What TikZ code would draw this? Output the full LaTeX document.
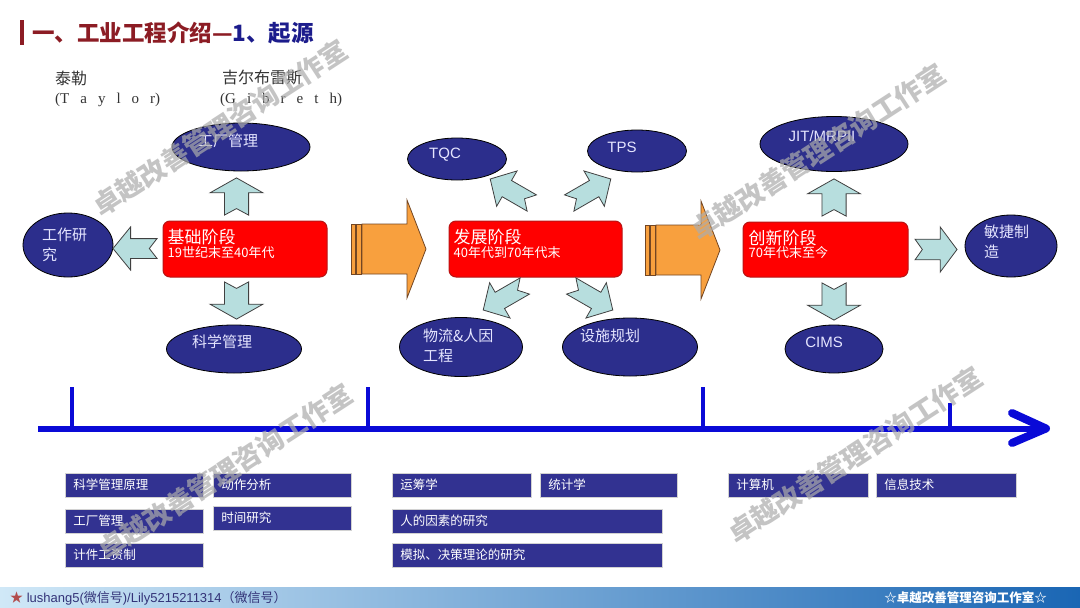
\documentclass[tikz,border=0pt]{standalone}
\usepackage{fontspec}
\setmainfont{Liberation Sans}
\newfontfamily\cjk{Noto Sans CJK SC}
\newfontfamily\romfont{Liberation Serif}
\usetikzlibrary{shapes.geometric,positioning}

\definecolor{ovalblue}{RGB}{44,46,140}
\definecolor{phasered}{RGB}{255,0,0}
\definecolor{phaseedge}{RGB}{185,20,20}
\definecolor{aqua}{RGB}{183,222,222}
\definecolor{orangefill}{RGB}{248,160,62}
\definecolor{orangeedge}{RGB}{115,70,35}
\definecolor{lineblue}{RGB}{10,10,215}
\definecolor{boxblue}{RGB}{50,50,145}
\definecolor{titlered}{RGB}{140,28,36}
\definecolor{titleblue}{RGB}{28,28,140}
\definecolor{footlight}{RGB}{208,232,247}
\definecolor{footmid}{RGB}{168,206,235}
\definecolor{footdark}{RGB}{26,102,180}

\newcommand\ltrgap{\hspace{11pt}}

\tikzset{
	oval/.style={ellipse, draw=black, line width=0.8, fill=ovalblue},
	ovaltext/.style={font=\cjk\fontsize{15}{20}\selectfont, text=white!90!blue, inner sep=0, align=left},
	phase/.style={draw=phaseedge, line width=1, fill=phasered, rounded corners=7},
	phasetext/.style={font=\cjk, text=white, inner sep=0, align=left, anchor=west},
	topic/.style={draw=gray!35, line width=0.8, fill=boxblue, anchor=west, text=white, align=left,
		font=\cjk\fontsize{12.5}{14}\selectfont, inner xsep=8, inner ysep=0, minimum height=24},
	person/.style={anchor=west, inner sep=0, text=black!80, font=\cjk\fontsize{16}{18}\selectfont},
	orangebar/.style={fill=orangefill, draw=orangeedge, line width=0.8},
	notcharrow/.pic={\filldraw[fill=aqua, draw=black!75, line width=0.8]
		(-20,-11) -- (4,-11) -- (4,-24) -- (20,0) -- (4,24) -- (4,11) -- (-20,11) -- (-13,0) -- cycle;},
	stripearrow/.pic={
		\filldraw[orangebar] (0,-25) rectangle (4,25);
		\filldraw[orangebar] (5,-25) rectangle (10,25);
		\filldraw[orangebar] (11,-25) -- (56,-25) -- (56,-49) -- (75,0) -- (56,49) -- (56,25) -- (11,25) -- cycle;},
	wmark/.style={rotate=33, inner sep=0, text=gray!65, opacity=0.7, font=\cjk\bfseries\fontsize{27}{30}\selectfont}
}

\begin{document}
\begin{tikzpicture}[x=1pt,y=-1pt]
	\useasboundingbox (0,0) rectangle (1080,608);
	\fill[white] (0,0) rectangle (1080,608);

	% title
	\fill[titlered] (20,20) rectangle (24,45);
	\node[anchor=west, inner sep=0, font=\cjk\bfseries\fontsize{22.5}{26}\selectfont] (title) at (32,33)
		{\textcolor{titlered}{一、工业工程介绍—}\textcolor{titleblue}{1、起源}};

	\node[person] (taylor) at (55,78) {泰勒};
	\node[person, font=\romfont\fontsize{15}{18}\selectfont] (taylor-en) at (55,100) {(T\ltrgap a\ltrgap y\ltrgap l\ltrgap o\ltrgap r)};
	\node[person] (gilbreth) at (222,78) {吉尔布雷斯};
	\node[person, font=\romfont\fontsize{15}{18}\selectfont] (gilbreth-en) at (220,100) {(G\ltrgap i\ltrgap b\ltrgap r\ltrgap e\ltrgap t\ltrgap h)};

	% phases
	\node[phase, minimum width=164, minimum height=56] (base) at (245,249) {};
	\node[phase, minimum width=173, minimum height=56] (develop) at (535.5,249) {};
	\node[phase, minimum width=165, minimum height=55] (innovate) at (825.5,249.5) {};
	\node[phasetext] (base-t) at ([shift={(5,-5)}]base.west)
		{{\fontsize{17}{19}\selectfont 基础阶段}\\{\fontsize{13}{17}\selectfont 19世纪末至40年代}};
	\node[phasetext] (develop-t) at ([shift={(5,-5)}]develop.west)
		{{\fontsize{17}{19}\selectfont 发展阶段}\\{\fontsize{13}{17}\selectfont 40年代到70年代末}};
	\node[phasetext] (innovate-t) at ([shift={(6,-5)}]innovate.west)
		{{\fontsize{17}{19}\selectfont 创新阶段}\\{\fontsize{13}{17}\selectfont 70年代末至今}};

	\pic at (351,249) {stripearrow};
	\pic at (645,250) {stripearrow};

	% first stage
	\node[oval, minimum width=138, minimum height=48] (factory) at (241,147) {};
	\node[oval, minimum width=90, minimum height=64] (workstudy) at (68,245) {};
	\node[oval, minimum width=135, minimum height=48] (sciman) at (234,349) {};
	\node[ovaltext] (factory-t) at ([shift={(-13,-6)}]factory) {工厂管理};
	\node[ovaltext, anchor=west] (workstudy-t) at (42,245) {工作研\\究};
	\node[ovaltext] (sciman-t) at ([shift={(-12,-7)}]sciman) {科学管理};
	\pic[rotate=90, xscale=0.93, yscale=1.1] at (236.5,196.5) {notcharrow};
	\pic[rotate=-90, xscale=0.93, yscale=1.1] at (236.5,300.5) {notcharrow};
	\pic[rotate=180, xscale=1.1, yscale=0.9] at (135,248.5) {notcharrow};

	% second stage
	\node[oval, minimum width=99, minimum height=42] (tqc) at (457,159) {};
	\node[oval, minimum width=99, minimum height=42] (tps) at (637,151) {};
	\node[oval, minimum width=123, minimum height=59] (logistics) at (461,347) {};
	\node[oval, minimum width=135, minimum height=58] (facility) at (630,347) {};
	\node[ovaltext, font=\fontsize{15}{18}\selectfont] (tqc-t) at ([shift={(-12,-4)}]tqc) {TQC};
	\node[ovaltext, font=\fontsize{15}{18}\selectfont] (tps-t) at ([shift={(-15,-4)}]tps) {TPS};
	\node[ovaltext, anchor=west] (logistics-t) at (423,346) {物流\&人因\\工程};
	\node[ovaltext] (facility-t) at ([shift={(-20,-11)}]facility) {设施规划};
	\pic[rotate=150, xscale=1.2, yscale=0.85] at (511,191) {notcharrow};
	\pic[rotate=30, xscale=1.2, yscale=0.85] at (590,191) {notcharrow};
	\pic[rotate=-150, xscale=1.2, yscale=0.85] at (504,298) {notcharrow};
	\pic[rotate=-30, xscale=1.2, yscale=0.85] at (592,298) {notcharrow};

	% third stage
	\node[oval, minimum width=148, minimum height=55] (jit) at (834,144) {};
	\node[oval, minimum width=92, minimum height=62] (agile) at (1011,246) {};
	\node[oval, minimum width=98, minimum height=48] (cims) at (834,349) {};
	\node[ovaltext, font=\fontsize{15}{18}\selectfont] (jit-t) at ([shift={(-12,-8)}]jit) {JIT/MRPII};
	\node[ovaltext, anchor=west] (agile-t) at (984,242) {敏捷制\\造};
	\node[ovaltext, font=\fontsize{15}{18}\selectfont] (cims-t) at ([shift={(-10,-7)}]cims) {CIMS};
	\pic[rotate=90, xscale=0.93, yscale=1.1] at (834,197.5) {notcharrow};
	\pic[rotate=-90, xscale=0.93, yscale=1.1] at (834,301.5) {notcharrow};
	\pic[xscale=1.05, yscale=0.94] at (936,249.5) {notcharrow};

	% time line
	\draw[lineblue, line width=6.5] (38,429) -- (1040,429);
	\foreach \x/\top in {72/387, 368/387, 703/387, 950/403}
		\draw[lineblue, line width=4.5] (\x,\top) -- (\x,429);
	\draw[lineblue, line width=8, line cap=round, line join=round] (1012,413) -- (1046,428.5) -- (1012,443);

	% subjects
	\node[topic, text width=122pt] (sciprin) at (65,485) {科学管理原理};
	\node[topic, text width=122pt] (factory-b) at (65,521) {工厂管理};
	\node[topic, text width=122pt] (piecework) at (65,555) {计件工资制};
	\node[topic, text width=122pt] (motion) at (213,485) {动作分析};
	\node[topic, text width=122pt] (timestudy) at (213,518) {时间研究};
	\node[topic, text width=123pt] (opres) at (392,485) {运筹学};
	\node[topic, text width=121pt] (stats) at (540,485) {统计学};
	\node[topic, text width=254pt] (human) at (392,521) {人的因素的研究};
	\node[topic, text width=254pt] (simul) at (392,555) {模拟、决策理论的研究};
	\node[topic, text width=124pt] (computer) at (728,485) {计算机};
	\node[topic, text width=124pt] (infotech) at (876,485) {信息技术};

	% footer
	\shade[left color=footlight, middle color=footmid, right color=footdark] (0,586) rectangle (1080,608);
	\draw[white, line width=1] (0,586) -- (1080,586);
	\node[anchor=west, inner sep=0, text=black!55!blue!60!gray, font=\fontsize{13}{15}\selectfont] (contact) at (10,598)
		{\textcolor{red!40!gray}{\cjk ★} lushang5({\cjk 微信号})/Lily5215211314{\cjk（微信号）}};
	\node[anchor=east, inner sep=0, text=white, font=\cjk\bfseries\fontsize{12.5}{14}\selectfont] (studio) at (1047,598)
		{☆卓越改善管理咨询工作室☆};

	% watermarks
	\foreach \x/\y in {220/128, 818/152, 225/472, 855/455}
		\node[wmark] (wm-\x) at (\x,\y) {卓越改善管理咨询工作室};
\end{tikzpicture}
\end{document}
